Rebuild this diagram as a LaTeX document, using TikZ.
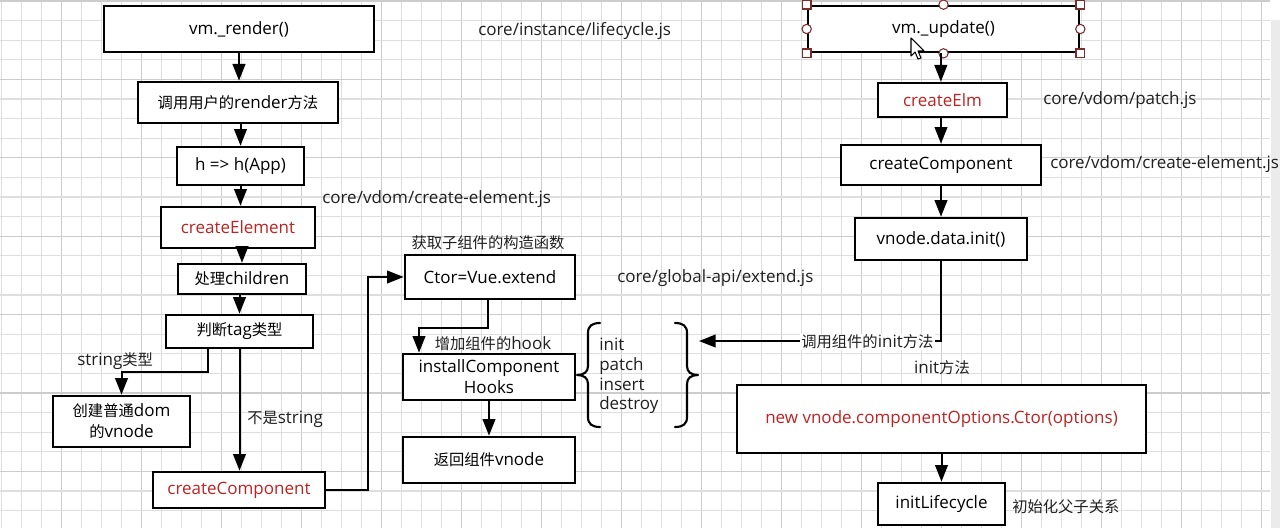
\documentclass[tikz,border=0pt]{standalone}
\usepackage{fontspec}
\setmainfont{Open Sans}
\newfontfamily\zhfont[Scale=0.9]{Noto Sans CJK SC}
\newcommand\zh[1]{{\zhfont #1}}
\usetikzlibrary{arrows.meta}
\definecolor{redtxt}{RGB}{190,35,35}
\definecolor{gridminor}{RGB}{222,222,222}
\definecolor{gridmajor}{RGB}{204,204,204}
\definecolor{handlecol}{RGB}{125,45,45}
\tikzset{
  box/.style={draw, line width=2pt, fill=white, inner sep=0pt, align=center},
  lbl/.style={inner sep=0pt, text=black!88},
  arr/.style={-{Triangle[length=12.5pt,width=9.5pt]}, line width=1.5pt},
  conn/.style={line width=1.5pt},
  hsq/.style={draw=handlecol, fill=white, line width=0.8pt, rectangle, minimum size=6.5pt, inner sep=0pt},
  hci/.style={draw=handlecol, fill=white, line width=0.8pt, circle, minimum size=7pt, inner sep=0pt},
  bracestyle/.style={line width=1.6pt, line cap=round, line join=round}
}
\begin{document}
\begin{tikzpicture}[x=0.75pt,y=-0.75pt,font=\fontsize{12.75pt}{15.75pt}\selectfont]
\useasboundingbox (0,0) rectangle (1280,528);
\fill[white] (0,0) rectangle (1280,528);
% grid
\foreach \k in {0,...,63}{
  \pgfmathsetmacro\gx{1.7+20*\k}
  \pgfmathtruncatemacro\m{mod(\k,4)}
  \ifnum\m=3 \draw[gridmajor,line width=0.8pt] (\gx,0) -- (\gx,528);
  \else \draw[gridminor,line width=0.8pt] (\gx,0) -- (\gx,528); \fi
}
\foreach \k in {0,...,26}{
  \pgfmathsetmacro\gy{1+19.6*\k}
  \pgfmathtruncatemacro\m{mod(\k,4)}
  \ifnum\m=0 \draw[gridmajor,line width=0.8pt] (0,\gy) -- (1270,\gy);
  \else \draw[gridminor,line width=0.8pt] (0,\gy) -- (1270,\gy); \fi
}
\fill[black!8] (1271,20) rectangle (1280,528);

% left column
\node[box, minimum width=202.5pt, minimum height=34.5pt] (render) at (239,29) {vm.\_render()};
\node[box, minimum width=150pt, minimum height=30.75pt] (userRender) at (238,102.5) {\zh{调用用户的}render\zh{方法}};
\node[box, minimum width=95.25pt, minimum height=28.5pt] (happ) at (240.5,166) {h => h(App)};
\node[box, minimum width=115.5pt, minimum height=30.75pt, text=redtxt] (createEl) at (238,227.5) {createElement};
\node[box, minimum width=96pt, minimum height=22.5pt] (children) at (242,279) {\zh{处理}children};
\node[box, minimum width=110.25pt, minimum height=24.75pt] (tag) at (239.5,331.5) {\zh{判断}tag\zh{类型}};
\node[box, minimum width=102.75pt, minimum height=38.25pt] (plain) at (121.5,421.5) {\zh{创建普通}dom\\\zh{的}vnode};
\node[box, minimum width=129pt, minimum height=27pt, text=redtxt] (ccL) at (239,490) {createComponent};

% middle column
\node[box, minimum width=127.5pt, minimum height=33pt] (ctor) at (490,277) {Ctor=Vue.extend};
\node[box, minimum width=129pt, minimum height=34.5pt] (install) at (489,377) {installComponent\\Hooks};
\node[box, minimum width=129pt, minimum height=34.5pt] (ret) at (489,460) {\zh{返回组件}vnode};

% right column
\node[box, minimum width=203.25pt, minimum height=34.5pt] (update) at (943.5,29) {vm.\_update()};
\node[box, minimum width=96.75pt, minimum height=25.5pt, text=redtxt] (elm) at (942.5,100) {createElm};
\node[box, minimum width=150pt, minimum height=30pt] (ccR) at (941,165) {createComponent};
\node[box, minimum width=129pt, minimum height=31.5pt] (init) at (941,239) {vnode.data.init()};
\node[box, minimum width=306.75pt, minimum height=51pt, text=redtxt] (newCtor) at (941.5,419) {new vnode.componentOptions.Ctor(options)};
\node[box, minimum width=95.25pt, minimum height=31.5pt] (life) at (941.5,504) {initLifecycle};

% selection handles
\foreach \a in {north west,north east,south west,south east} \node[hsq] at (update.\a) {};
\foreach \a in {north,south,west,east} \node[hci] at (update.\a) {};

% labels
\node[lbl, anchor=west] (lLife) at (478,31) {core/instance/lifecycle.js};
\node[lbl, anchor=west] (lCE) at (322,199) {core/vdom/create-element.js};
\node[lbl] (lGet) at (488,243) {\zh{获取子组件的构造函数}};
\node[lbl, anchor=west] (lExt) at (617,278) {core/global-api/extend.js};
\node[lbl, anchor=west] (lStr) at (77,361) {string\zh{类型}};
\node[lbl, anchor=west] (lNot) at (247,419) {\zh{不是}string};
\node[lbl] (lHook) at (493,344) {\zh{增加组件的}hook};
\node[lbl, anchor=west, align=left, font=\fontsize{12.75pt}{14.7pt}\selectfont] (hooks) at (599,376) {init\\patch\\insert\\destroy};
\node[lbl, anchor=west] (lPatch) at (1043,100) {core/vdom/patch.js};
\node[lbl, anchor=west] (lCE2) at (1050,164) {core/vdom/create-element.js};
\node[lbl] (lInitM) at (942,368) {init\zh{方法}};
\node[lbl, anchor=west] (lParent) at (1012,507) {\zh{初始化父子关系}};

% braces
\draw[bracestyle] (600,323) .. controls (592,323) and (588,326) .. (588,333) -- (588,366) .. controls (588,372) and (584,375) .. (577,375) .. controls (584,375) and (588,378) .. (588,384) -- (588,417) .. controls (588,424) and (592,427) .. (600,427);
\draw[bracestyle] (675,323) .. controls (683,323) and (687,326) .. (687,333) -- (687,366) .. controls (687,372) and (691,375) .. (698,375) .. controls (691,375) and (687,378) .. (687,384) -- (687,417) .. controls (687,424) and (683,427) .. (675,427);
\coordinate (braceR) at (699,341);

% connectors left
\draw[arr] (render.south) -- (render.south |- userRender.north);
\draw[arr] (userRender.south -| happ.north) -- (happ.north);
\draw[arr] (happ.south) -- (happ.south |- createEl.north);
\draw[arr] (createEl.south -| children.north) -- (children.north);
\draw[arr] (children.south -| tag.north) -- (tag.north);
\draw[arr] ([xshift=-23.6pt]tag.south) -- ++(0,23) -| (plain.north);
\draw[arr] (tag.south) -- (tag.south |- ccL.north);
\draw[arr] (ccL.east) -- ++(42,0) |- (ctor.west);
% middle
\draw[arr] ([xshift=-1.5pt]ctor.south) -- ++(0,28) -| ([xshift=-52.5pt]install.north);
\draw[arr] (install.south) -- (ret.north);
% right
\draw[arr] ([xshift=-2pt]update.south) -- ([xshift=-2pt]update.south |- elm.north);
\draw[arr] (elm.south -| ccR.north) -- (ccR.north);
\draw[arr] (ccR.south) -- (init.north);
\draw[arr] (init.south) |- (braceR);
\node[lbl, fill=white, inner sep=1pt, anchor=east] (lCall) at (935,342) {\zh{调用组件的}init\zh{方法}};
\draw[arr] (newCtor.south -| life.north) -- (life.north);

% mouse cursor
\draw[fill=white, line width=0.8pt, line join=round, shift={(911,38)}] (0,0) -- (0,18) -- (4,14) -- (7,21) -- (10,20) -- (7,13) -- (13,13) -- cycle;
\end{tikzpicture}
\end{document}
